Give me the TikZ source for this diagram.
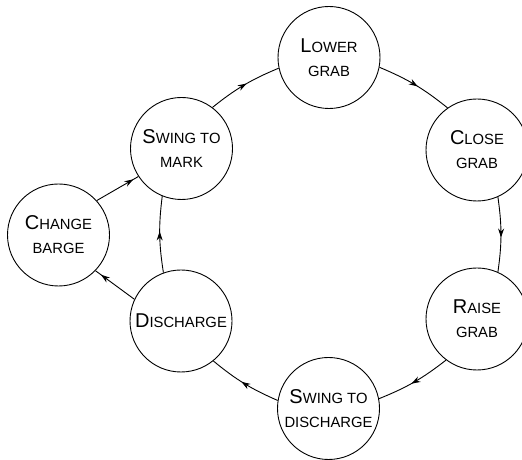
\documentclass[tikz,border=0pt]{standalone}
\usepackage{fontspec}
\setmainfont{Liberation Sans}
\usetikzlibrary{arrows.meta,decorations.markings}
\newcommand\Bgl[1]{{\fontsize{20}{24}\selectfont #1}}
\tikzset{
  state/.style={draw, circle, line width=0.9pt, minimum size=102pt, inner sep=0pt,
    align=center, font=\fontsize{14.8}{24}\selectfont, text=black},
  ring/.style={line width=0.9pt, bend left=8, postaction={decorate},
    decoration={markings, mark=at position 0.54 with {\arrow{Stealth[length=9pt,width=6pt]}}}},
  short/.style={line width=0.9pt, postaction={decorate},
    decoration={markings, mark=at position #1 with {\arrow{Stealth[length=9pt,width=6pt]}}}},
}
\begin{document}
\begin{tikzpicture}[x=1pt,y=1pt]
\useasboundingbox (0,0) rectangle (522,460);
\node[state] (lower) at (329,402.5) {\Bgl{L}OWER\\GRAB};
\node[state] (close) at (477,310) {\Bgl{C}LOSE\\GRAB};
\node[state] (raise) at (477,141) {\Bgl{R}AISE\\GRAB};
\node[state] (swdis) at (328.5,51.5) {\Bgl{S}WING TO\\DISCHARGE};
\node[state] (dis) at (181,139) {\Bgl{D}ISCHARGE};
\node[state] (swmark) at (181.5,311.5) {\Bgl{S}WING TO\\MARK};
\node[state] (change) at (58.5,225) {\Bgl{C}HANGE\\BARGE};

\draw[ring] (swmark.53) to (lower.192);
\draw[ring] (lower.-11) to (close.125);
\draw[ring] (close.-66) to (raise.66);
\draw[ring] (raise.233) to (swdis.11);
\draw[ring] (swdis.171) to (dis.-51);
\draw[ring] (dis.110) to (swmark.248);
\draw[short=0.86] (dis.155) -- (change.-44);
\draw[short=0.88] (change.42) -- (swmark.213);
\end{tikzpicture}
\end{document}
